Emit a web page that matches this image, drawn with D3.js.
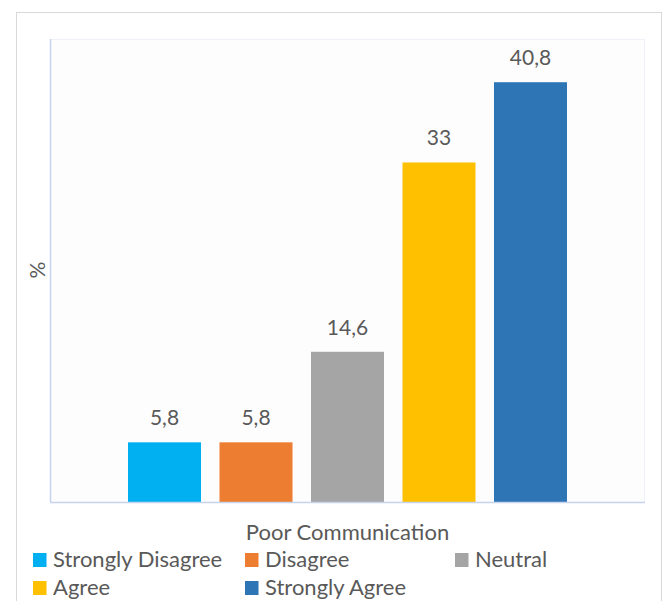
<!DOCTYPE html>
<html>
<head>
<meta charset="utf-8">
<script src="https://cdn.jsdelivr.net/npm/d3@7"></script>
<style>
  html, body { margin: 0; padding: 0; background: #fff; }
  svg text { font-family: Lato, "Open Sans", sans-serif; fill: #595959; }
</style>
</head>
<body>
<svg id="chart" width="664" height="601"></svg>
<script>
// Survey responses for one item, in percent
const category = "Poor Communication";
const seriesNames = ["Strongly Disagree", "Disagree", "Neutral", "Agree", "Strongly Agree"];
const seriesValues = [5.8, 5.8, 14.6, 33, 40.8];
const valueLabels = ["5,8", "5,8", "14,6", "33", "40,8"];
const seriesColors = ["#00B0F0", "#ED7D31", "#A5A5A5", "#FFC000", "#2E75B6"];
const yDomain = [0, 45];

const svg = d3.select("#chart");

// outer chart frame
svg.append("rect")
  .attr("x", 16.5).attr("y", 12.5)
  .attr("width", 645).attr("height", 600)
  .attr("fill", "#fff").attr("stroke", "#D9D9D9").attr("stroke-width", 1);

const plot = { left: 50, right: 645, top: 39, bottom: 502 };

// plot area box
svg.append("rect")
  .attr("x", plot.left + 0.5).attr("y", plot.top + 0.5)
  .attr("width", plot.right - plot.left - 1).attr("height", plot.bottom - plot.top)
  .attr("fill", "#FDFDFE").attr("stroke", "#EEF1F8").attr("stroke-width", 1);

const x0 = d3.scaleBand().domain([category]).range([plot.left, plot.right]).paddingOuter(0.1777).paddingInner(0);
const x1 = d3.scaleBand().domain(seriesNames).range([0, x0.bandwidth()]).paddingInner(0.202).paddingOuter(0);
const y = d3.scaleLinear().domain(yDomain).range([plot.bottom, plot.top]);

const g = svg.append("g").attr("transform", `translate(${x0(category)},0)`);

g.selectAll("rect.bar")
  .data(seriesNames)
  .join("rect")
  .attr("class", "bar")
  .attr("x", d => x1(d))
  .attr("width", x1.bandwidth())
  .attr("y", (d, i) => y(seriesValues[i]))
  .attr("height", (d, i) => y(0) - y(seriesValues[i]))
  .attr("fill", (d, i) => seriesColors[i]);

g.selectAll("text.value")
  .data(seriesNames)
  .join("text")
  .attr("class", "value")
  .attr("x", d => x1(d) + x1.bandwidth() / 2)
  .attr("y", (d, i) => y(seriesValues[i]) - 17)
  .attr("text-anchor", "middle")
  .style("font-size", "21px")
  .text((d, i) => valueLabels[i]);

// value axis line (left) and category axis line (bottom)
svg.append("line")
  .attr("x1", plot.left + 0.5).attr("x2", plot.left + 0.5)
  .attr("y1", plot.top).attr("y2", plot.bottom)
  .attr("stroke", "#C5D3EC").attr("stroke-width", 1.5);
svg.append("line")
  .attr("x1", plot.left).attr("x2", plot.right)
  .attr("y1", plot.bottom + 0.5).attr("y2", plot.bottom + 0.5)
  .attr("stroke", "#C5D3EC").attr("stroke-width", 1.5);

// y-axis title
svg.append("text")
  .attr("transform", "translate(45,270) rotate(-90)")
  .attr("text-anchor", "middle")
  .style("font-size", "21px")
  .text("%");

// category title
svg.append("text")
  .attr("x", 347.5).attr("y", 540)
  .attr("text-anchor", "middle")
  .style("font-size", "22px")
  .text(category);

// legend
const legendPos = [[33, 567], [245, 567], [455, 567], [33, 595], [245, 595]];
const lg = svg.append("g").selectAll("g")
  .data(seriesNames)
  .join("g")
  .attr("transform", (d, i) => `translate(${legendPos[i][0]},${legendPos[i][1]})`);
lg.append("rect")
  .attr("x", 0).attr("y", -14).attr("width", 13.5).attr("height", 14)
  .attr("fill", (d, i) => seriesColors[i]);
lg.append("text")
  .attr("x", 20).attr("y", 0)
  .style("font-size", "22px")
  .text(d => d);
</script>
</body>
</html>
